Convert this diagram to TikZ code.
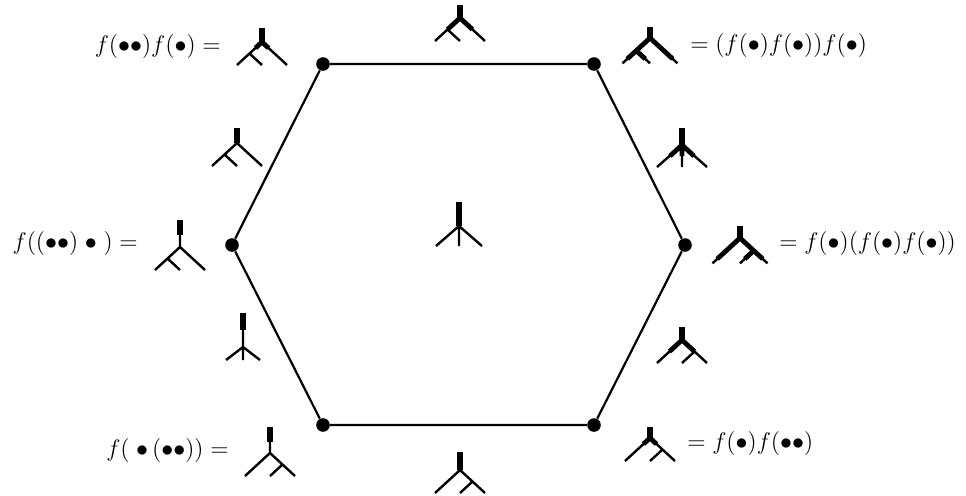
\documentclass[tikz,border=0pt]{standalone}
\begin{document}
\begin{tikzpicture}[x=0.5pt,y=-0.5pt,line join=round,
  dot/.style={circle,fill,inner sep=0pt,minimum size=6.8pt},
  side/.style={line width=1.1pt},
  twig/.style={line width=1.2pt},
  trunk/.style={line width=3.4pt},
  painted/.style={line width=2.4pt},
  lbl/.style={font=\large,inner sep=0pt}]
\useasboundingbox (0,0) rectangle (966,495);
% vertices of the hexagon
\node[dot] (tl) at (323,64) {};
\node[dot] (tr) at (594,64) {};
\node[dot] (r) at (685,245) {};
\node[dot] (br) at (594,425) {};
\node[dot] (bl) at (323,425) {};
\node[dot] (l) at (232,245) {};
\draw[side] (tl) -- (tr) -- (r) -- (br) -- (bl) -- (l) -- (tl);
% labels
\node[lbl,anchor=east] (ltl) at (221,46) {$f(\bullet\bullet)f(\bullet) =$};
\node[lbl,anchor=west] (ltr) at (690,45) {$= \bigl(f(\bullet)f(\bullet)\bigr)f(\bullet)$};
\node[lbl,anchor=east] (ll) at (138,243) {$f\bigl((\bullet\bullet)\;\bullet\;\bigr) =$};
\node[lbl,anchor=west] (lr) at (779,243) {$= f(\bullet)\bigl(f(\bullet)f(\bullet)\bigr)$};
\node[lbl,anchor=east] (lbl) at (229,450) {$f\bigl(\;\bullet\,(\bullet\bullet)\bigr) =$};
\node[lbl,anchor=west] (lbr) at (687,443) {$= f(\bullet)f(\bullet\bullet)$};
% f(..)f(.)
\begin{scope}[shift={(262,42)}]
  \draw[twig] (-25,23) -- (0,0) -- (25,23) (-12.5,11.5) -- (0,23);
  \draw[trunk] (0,-14) -- (0,0);
  \draw[painted] (-6.5,6) -- (0,0) -- (6.5,6);
\end{scope}
% top edge
\begin{scope}[shift={(460,18)}]
  \draw[twig] (-25,23) -- (0,0) -- (25,23) (-12.5,11.5) -- (0,23);
  \draw[trunk] (0,-13) -- (0,0);
  \draw[painted] (-12.5,11.5) -- (0,0) -- (12.5,11.5);
\end{scope}
% (f(.)f(.))f(.)
\begin{scope}[shift={(650,38)},scale=1.1]
  \draw[twig] (-25,23) -- (0,0) -- (25,23) (-12.5,11.5) -- (0,23);
  \draw[trunk] (0,-10) -- (0,0);
  \draw[painted] (-20.65,19) -- (0,0) -- (20.65,19) (-12.5,11.5) -- (-4.35,19);
\end{scope}
% left edge, upper
\begin{scope}[shift={(237,143)}]
  \draw[twig] (-25,23) -- (0,0) -- (25,23) (-12.5,11.5) -- (0,23);
  \draw[trunk] (0,-15) -- (0,0);
\end{scope}
% right edge, upper
\begin{scope}[shift={(682,145)}]
  \draw[twig] (-25,22) -- (0,0) -- (25,22) (0,0) -- (0,22);
  \draw[trunk] (0,-17) -- (0,0);
  \draw[painted] (-12,11) -- (0,0) -- (12,11) (0,0) -- (0,11);
\end{scope}
% f((..).)
\begin{scope}[shift={(180,247)}]
  \draw[twig] (-25,23) -- (0,0) -- (25,23) (-12.5,11.5) -- (0,23) (0,-27) -- (0,0);
  \draw[trunk] (0,-27) -- (0,-12);
\end{scope}
% centre
\begin{scope}[shift={(459,226)}]
  \draw[twig] (-23,20) -- (0,0) -- (23,20) (0,0) -- (0,20);
  \draw[trunk] (0,-24) -- (0,0);
\end{scope}
% f(.)(f(.)f(.))
\begin{scope}[shift={(740,238)},scale=1.1]
  \draw[twig] (-25,23) -- (0,0) -- (25,23) (12.5,11.5) -- (0,23);
  \draw[trunk] (0,-11) -- (0,0);
  \draw[painted] (-20.65,19) -- (0,0) -- (20.65,19) (12.5,11.5) -- (4.35,19);
\end{scope}
% left edge, lower
\begin{scope}[shift={(243,347)}]
  \draw[twig] (-17,13) -- (0,0) -- (17,13) (0,-34) -- (0,13);
  \draw[trunk] (0,-34) -- (0,-17);
\end{scope}
% right edge, lower
\begin{scope}[shift={(682,340)}]
  \draw[twig] (-25,23) -- (0,0) -- (25,23) (12.5,11.5) -- (0,23);
  \draw[trunk] (0,-13) -- (0,0);
  \draw[painted] (-12.5,11.5) -- (0,0) -- (12.5,11.5);
\end{scope}
% f(.(..))
\begin{scope}[shift={(270,453)}]
  \draw[twig] (-25,23) -- (0,0) -- (25,23) (12.5,11.5) -- (0,23) (0,-26) -- (0,0);
  \draw[trunk] (0,-26) -- (0,-11);
\end{scope}
% f(.)f(..)
\begin{scope}[shift={(650,438)}]
  \draw[twig] (-25,23) -- (0,0) -- (25,23) (12.5,11.5) -- (0,23);
  \draw[trunk] (0,-11) -- (0,0);
  \draw[painted] (-6.5,6) -- (0,0) -- (6.5,6);
\end{scope}
% bottom edge
\begin{scope}[shift={(460,470)}]
  \draw[twig] (-25,23) -- (0,0) -- (25,23) (12.5,11.5) -- (0,23);
  \draw[trunk] (0,-18) -- (0,0);
\end{scope}
\end{tikzpicture}
\end{document}
